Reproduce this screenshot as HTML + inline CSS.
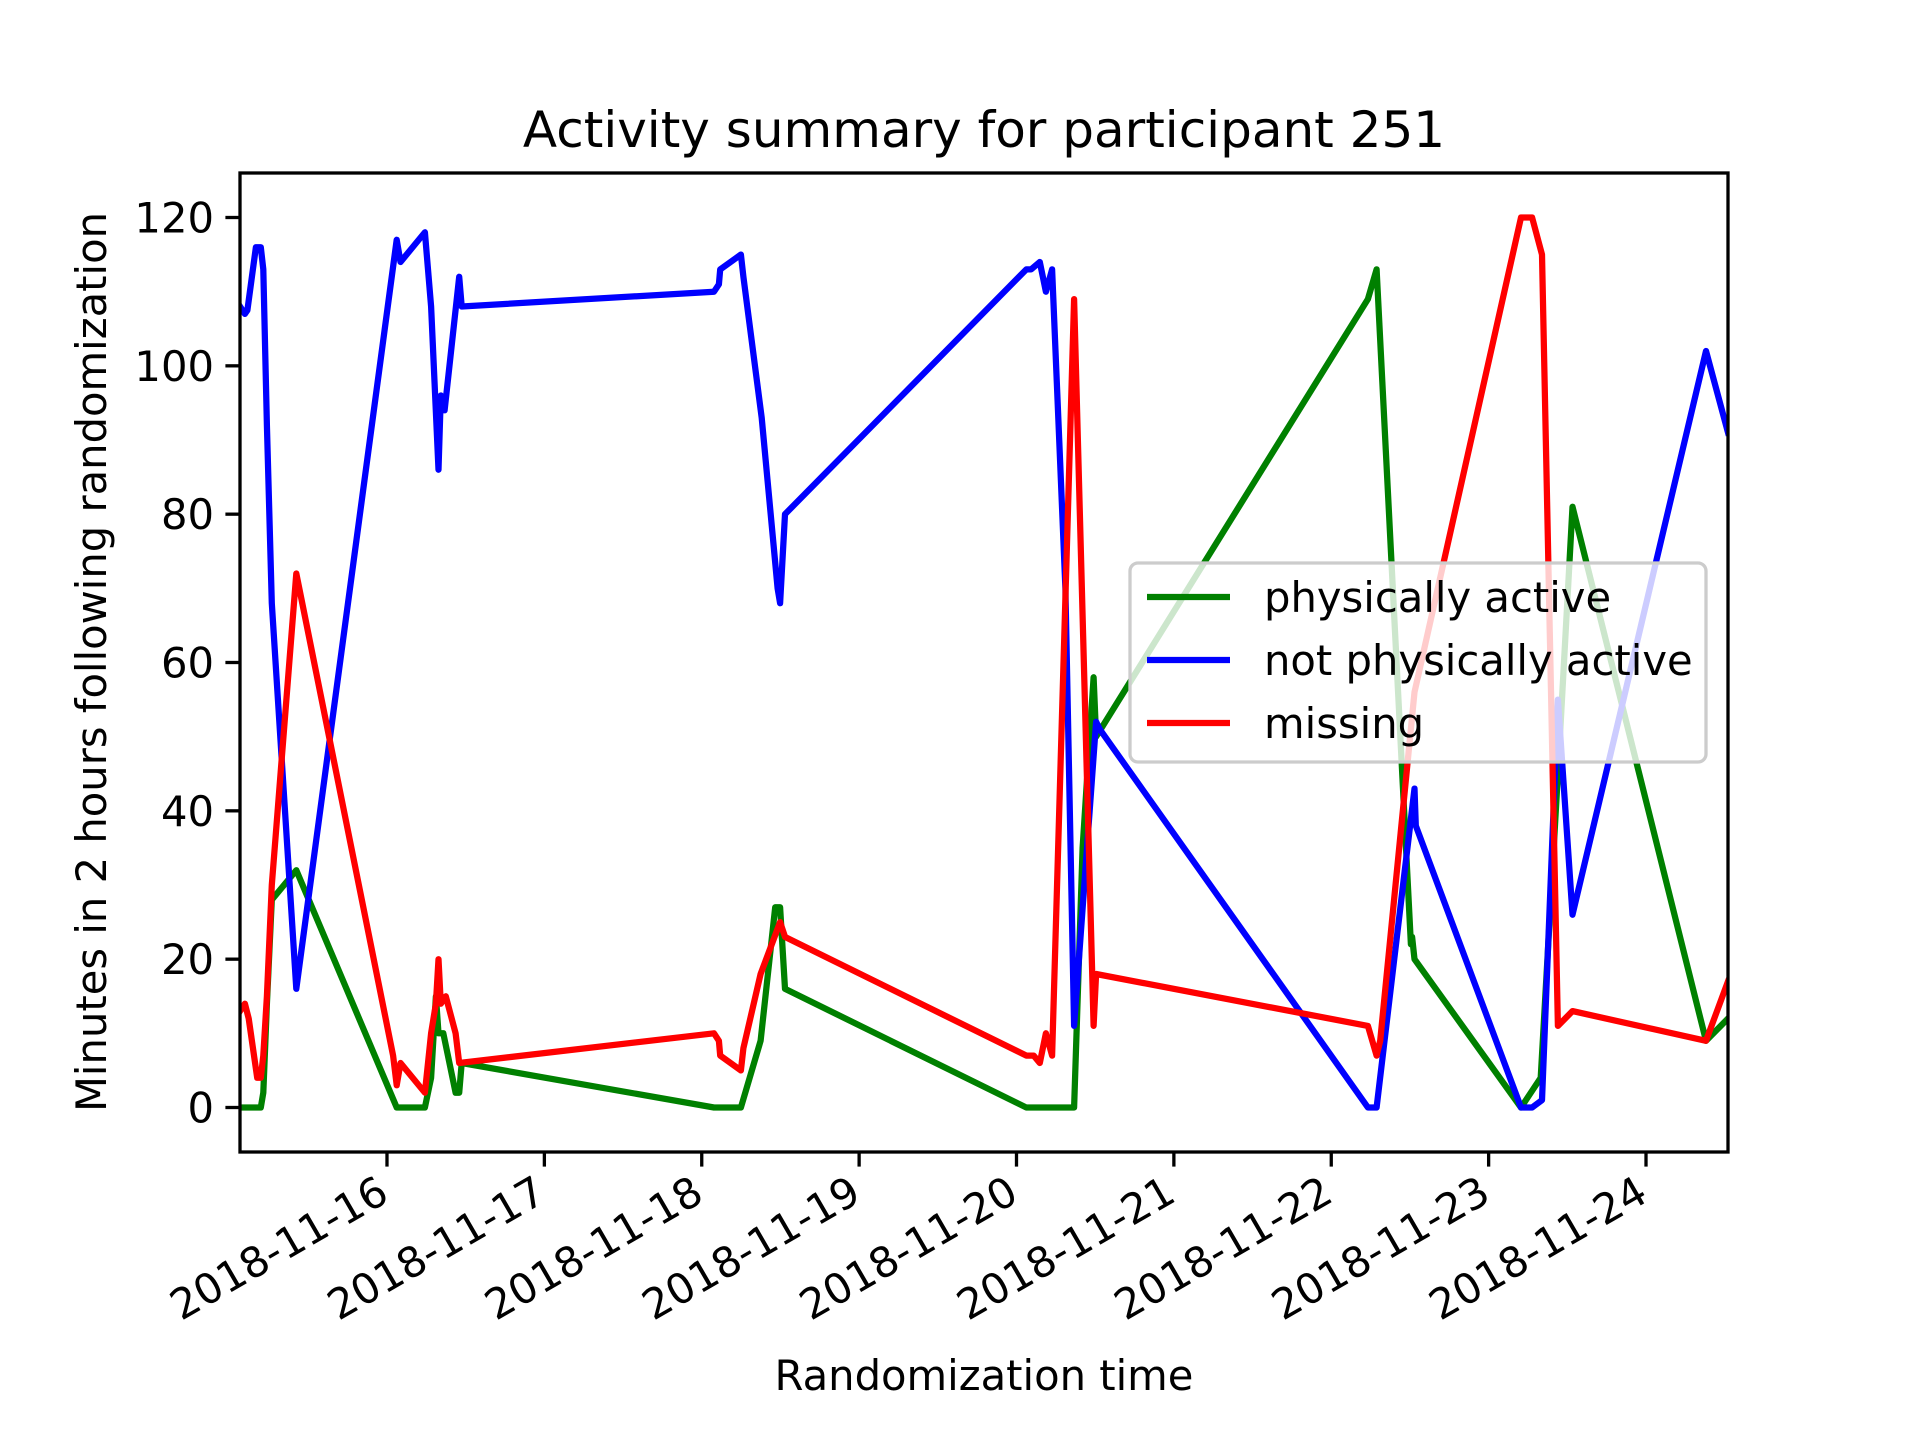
<!DOCTYPE html>
<html><head><meta charset="utf-8"><style>
html,body{margin:0;padding:0;background:#fff;}
svg{display:block;font-family:"DejaVu Sans","Liberation Sans",sans-serif;}
</style></head><body>
<svg id="chart" width="1920" height="1440" viewBox="0 0 1920 1440"></svg>
<script>
const startDate = "2018-11-15";
const xTickDays = [1,2,3,4,5,6,7,8,9];
const xTickLabels = ["2018-11-16","2018-11-17","2018-11-18","2018-11-19","2018-11-20","2018-11-21","2018-11-22","2018-11-23","2018-11-24"];
const yTicks = [0,20,40,60,80,100,120];
const blueDays = [0.066,0.097,0.113,0.167,0.198,0.214,0.237,0.268,0.424,1.062,1.086,1.241,1.280,1.327,1.342,1.366,1.459,1.475,3.078,3.109,3.117,3.249,3.265,3.381,3.482,3.498,3.529,5.062,5.093,5.148,5.187,5.226,5.311,5.366,5.506,5.529,7.233,7.288,7.529,7.537,8.206,8.276,8.339,8.440,8.533,9.381,9.521];
const blueVals = [108,107,107.5,116,116,113,92,68,16,117,114,118,108,86,96,94,112,108,110,111,113,115,112,93,70,68,80,113,113,114,110,113,70,11,52,51,0,0,43,38,0,0,1,55,26,102,91];
const greenDays = [0.066,0.198,0.214,0.237,0.268,0.424,1.062,1.241,1.280,1.311,1.327,1.358,1.436,1.459,1.475,3.078,3.249,3.374,3.467,3.498,3.529,5.062,5.366,5.420,5.490,5.506,7.233,7.288,7.506,7.514,7.529,8.206,8.331,8.440,8.533,9.381,9.521];
const greenVals = [0,0,2,14,28,32,0,0,4,15,10,10,2,2,6,0,0,9,27,27,16,0,0,35,58,50,109,113,22,23,20,0,4,45,81,9,12];
const redDays = [0.066,0.097,0.121,0.175,0.198,0.214,0.237,0.268,0.424,1.039,1.062,1.086,1.241,1.280,1.311,1.327,1.342,1.374,1.436,1.459,3.078,3.109,3.117,3.249,3.265,3.374,3.498,3.529,5.062,5.109,5.148,5.187,5.226,5.366,5.490,5.506,7.233,7.288,7.311,7.529,8.206,8.276,8.339,8.440,8.533,9.381,9.521];
const redVals = [13,14,12,4,4,7,15,30,72,7,3,6,2,10,14,20,14,15,10,6,10,9,7,5,8,18,25,23,7,7,6,10,7,109,11,18,11,7,9,56,120,120,115,11,13,9,17];

const L=240,R=1728,T=173,B=1152;
const xMin=0.066,xMax=9.521,yMin=-6,yMax=126;
const xs=d=>L+(d-xMin)/(xMax-xMin)*(R-L);
const ys=v=>B-(v-yMin)/(yMax-yMin)*(B-T);
const NS="http://www.w3.org/2000/svg";
const svg=document.getElementById('chart');
function mk(tag,attrs,parent){const e=document.createElementNS(NS,tag);for(const k in attrs)e.setAttribute(k,attrs[k]);(parent||svg).appendChild(e);return e;}

const defs=mk('defs',{});const cp=mk('clipPath',{id:'clip'},defs);mk('rect',{x:L,y:T,width:R-L,height:B-T},cp);

function series(days,vals,color,name){
  const p=mk('polyline',{points:days.map((d,i)=>xs(d).toFixed(1)+','+ys(vals[i]).toFixed(1)).join(' '),fill:'none',stroke:color,'stroke-width':6.25,'stroke-linejoin':'round','stroke-linecap':'square','clip-path':'url(#clip)'});
  
  
}
series(greenDays,greenVals,'#008000','series-physically-active');
series(blueDays,blueVals,'#0000ff','series-not-physically-active');
series(redDays,redVals,'#ff0000','series-missing');

const fr=mk('rect',{x:L,y:T,width:R-L,height:B-T,fill:'none',stroke:'#000','stroke-width':3.3});



yTicks.forEach(v=>{
  const y=ys(v);
  mk('line',{x1:L-14.6,x2:L,y1:y,y2:y,stroke:'#000','stroke-width':3.3});
  const t=mk('text',{x:L-26,y:y+15,'text-anchor':'end','font-size':41.7,fill:'#000'});
  t.textContent=v;
  
  
});
xTickDays.forEach((d,i)=>{
  const x=xs(d);
  mk('line',{x1:x,x2:x,y1:B,y2:B+14.6,stroke:'#000','stroke-width':3.3});
  const t=mk('text',{x:0,y:0,'text-anchor':'end','font-size':41.7,fill:'#000',transform:`translate(${x+4},${B+48}) rotate(-30)`});
  t.textContent=xTickLabels[i];
  
  
});

const lg=mk('g',{});


mk('rect',{x:1130,y:563,width:576,height:199,rx:8,fill:'#fff','fill-opacity':0.8,stroke:'#cccccc','stroke-width':3.3},lg);
const legItems=[['physically active','#008000',597],['not physically active','#0000ff',660],['missing','#ff0000',723]];
legItems.forEach(([lab,c,y])=>{
  const g=mk('g',{},lg);
  
  
  mk('line',{x1:1147,x2:1230,y1:y,y2:y,stroke:c,'stroke-width':6.25},g);
  const t=mk('text',{x:1264,y:y+15,'font-size':41.7,fill:'#000'},g);
  t.textContent=lab;
});

const ti=mk('text',{x:984,y:147,'text-anchor':'middle','font-size':50,fill:'#000'});
ti.textContent='Activity summary for participant 251';


const xl=mk('text',{x:984,y:1390,'text-anchor':'middle','font-size':41.7,fill:'#000'});
xl.textContent='Randomization time';


const yl=mk('text',{x:0,y:0,'text-anchor':'middle','font-size':41.7,fill:'#000',transform:'translate(106,662) rotate(-90)'});
yl.textContent='Minutes in 2 hours following randomization';


</script>
</body></html>
